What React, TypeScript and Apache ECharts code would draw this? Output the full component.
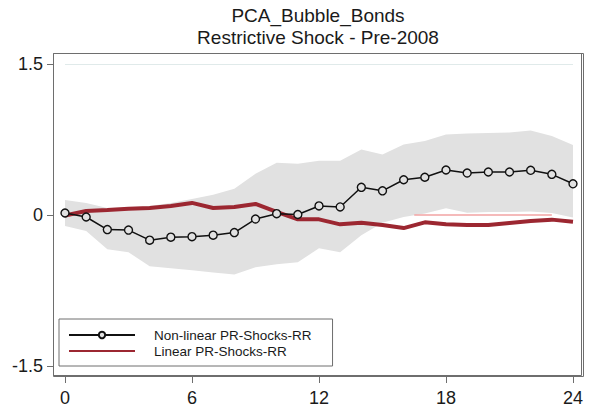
import React, { useEffect, useRef } from "react";
import * as echarts from "echarts";

const horizons = [0, 1, 2, 3, 4, 5, 6, 7, 8, 9, 10, 11, 12, 13, 14, 15, 16, 17, 18, 19, 20, 21, 22, 23, 24];
const nonLinear = [0.02, -0.02, -0.145, -0.15, -0.25, -0.22, -0.215, -0.2, -0.175, -0.04, 0.013, 0.005, 0.09, 0.08, 0.275, 0.24, 0.35, 0.375, 0.447, 0.417, 0.427, 0.427, 0.444, 0.404, 0.31];
const linear = [-0.005, 0.04, 0.05, 0.063, 0.07, 0.09, 0.12, 0.07, 0.08, 0.11, 0.03, -0.043, -0.043, -0.093, -0.076, -0.1, -0.13, -0.073, -0.093, -0.1, -0.1, -0.08, -0.06, -0.046, -0.066];
const bandUpper = [0.15, 0.12, 0.07, 0.075, 0.09, 0.12, 0.16, 0.2, 0.26, 0.41, 0.52, 0.51, 0.54, 0.54, 0.65, 0.6, 0.7, 0.735, 0.8, 0.81, 0.815, 0.82, 0.84, 0.785, 0.695];
const bandLower = [-0.11, -0.16, -0.34, -0.37, -0.51, -0.53, -0.55, -0.57, -0.59, -0.52, -0.49, -0.47, -0.33, -0.37, -0.2, -0.076, -0.02, 0.015, 0.066, 0.023, 0.03, 0.03, 0.036, 0.02, -0.026];
const zeroSegment = [[16.5, 0], [23, 0]];
const xTickInterval = 6;
const xRange = [0, 24];
const yTickInterval = 1.5;
const yRange = [-1.5, 1.5];
const titleLines = ["PCA_Bubble_Bonds", "Restrictive Shock - Pre-2008"];
const seriesNames = ["Non-linear PR-Shocks-RR", "Linear PR-Shocks-RR"];

export default function App() {
  const ref = useRef<HTMLDivElement>(null);
  useEffect(() => {
    const chart = echarts.init(ref.current!, null, { renderer: "svg" });
    const font = "'Liberation Sans', Arial, sans-serif";
    const axisGrey = "#6e6e6e";
    const textColor = "#1a1a1a";
    const bandPoints = horizons
      .map((h, i) => [h, bandUpper[i]])
      .concat(horizons.map((h, i) => [h, bandLower[i]]).reverse());

    chart.setOption({
      animation: false,
      backgroundColor: "#ffffff",
      title: [
        {
          show: true,
          text: " ",
          left: 53,
          top: 53,
          padding: [161, 264, 161, 264],
          borderColor: axisGrey,
          borderWidth: 1,
          backgroundColor: "rgba(255,255,255,0)",
          textStyle: { fontSize: 1 },
          z: 0,
        },
      ],
      graphic: [
        {
          type: "text",
          x: 318,
          y: 15,
          style: { text: titleLines[0], fontFamily: font, fontSize: 19, fill: textColor, align: "center", verticalAlign: "middle" },
        },
        {
          type: "text",
          x: 318,
          y: 37,
          style: { text: titleLines[1], fontFamily: font, fontSize: 19, fill: textColor, align: "center", verticalAlign: "middle" },
        },
      ],
      grid: [{ left: 65, right: 19, top: 64, bottom: 46 }],
      xAxis: [
        {
          type: "value",
          min: xRange[0],
          max: xRange[1],
          interval: xTickInterval,
          offset: 10,
          axisLine: { show: true, onZero: false, lineStyle: { color: axisGrey, width: 1 } },
          axisTick: { show: true, length: 7, lineStyle: { color: axisGrey, width: 1 } },
          axisLabel: { fontFamily: font, fontSize: 18, color: textColor, margin: 13 },
          splitLine: { show: false },
        },
      ],
      yAxis: [
        {
          type: "value",
          min: yRange[0],
          max: yRange[1],
          interval: yTickInterval,
          offset: 12,
          axisLine: { show: true, onZero: false, lineStyle: { color: axisGrey, width: 1 } },
          axisTick: { show: true, length: 6, lineStyle: { color: axisGrey, width: 1 } },
          axisLabel: { fontFamily: font, fontSize: 18, color: textColor, margin: 10 },
          splitLine: { show: true, lineStyle: { color: ["rgba(0,0,0,0)", "rgba(0,0,0,0)", "#e0eaea"], width: 1 } },
        },
      ],
      legend: {
        data: [
          { name: seriesNames[0] },
          { name: seriesNames[1], itemStyle: { color: "rgba(0,0,0,0)", borderWidth: 0, borderColor: "rgba(0,0,0,0)" } },
        ],
        orient: "vertical",
        left: 59,
        top: 319,
        itemWidth: 66,
        itemHeight: 8,
        itemGap: 2,
        padding: [9, 21, 8, 9],
        borderColor: axisGrey,
        borderWidth: 1,
        backgroundColor: "#ffffff",
        selectedMode: false,
        textStyle: { fontFamily: font, fontSize: 13.5, color: textColor, padding: [0, 0, 0, 14] },
      },
      series: [
        {
          type: "line",
          name: "zero-ref",
          data: zeroSegment,
          showSymbol: false,
          symbol: "none",
          lineStyle: { color: "#f2a3a3", width: 1.5 },
          silent: true,
        },
        {
          type: "custom",
          name: "band",
          data: [[0, 0]],
          silent: true,
          clip: false,
          renderItem: (params: any, api: any) => {
            const cs = params.coordSys;
            return {
              type: "group",
              children: [
                {
                  type: "polygon",
                  shape: { points: bandPoints.map((p) => api.coord(p)) },
                  style: { fill: "#e1e1e1", stroke: "none" },
                },
                {
                  type: "polyline",
                  shape: {
                    points: [
                      [cs.x - 11.5, cs.y - 10.5],
                      [cs.x + cs.width + 10.5, cs.y - 10.5],
                      [cs.x + cs.width + 10.5, cs.y + cs.height + 10.5],
                      [cs.x - 11.5, cs.y + cs.height + 10.5],
                      [cs.x - 11.5, cs.y - 10.5],
                    ],
                  },
                  style: { stroke: axisGrey, lineWidth: 1, fill: "none" },
                },
              ],
            };
          },
        },
        {
          type: "line",
          name: seriesNames[1],
          data: horizons.map((h, i) => [h, linear[i]]),
          symbol: "none",
          showSymbol: false,
          color: "#9c2731",
          lineStyle: { color: "#9c2731", width: 4 },
        },
        {
          type: "line",
          name: seriesNames[0],
          data: horizons.map((h, i) => [h, nonLinear[i]]),
          symbol: "circle",
          symbolSize: 8,
          color: "#111111",
          itemStyle: { color: "#e1e1e1", borderColor: "#111111", borderWidth: 1.4 },
          lineStyle: { color: "#111111", width: 1.5 },
        },
      ],
    });
    return () => chart.dispose();
  }, []);
  return <div ref={ref} style={{ position: "fixed", left: 0, top: 0, width: 592, height: 412 }} />;
}
